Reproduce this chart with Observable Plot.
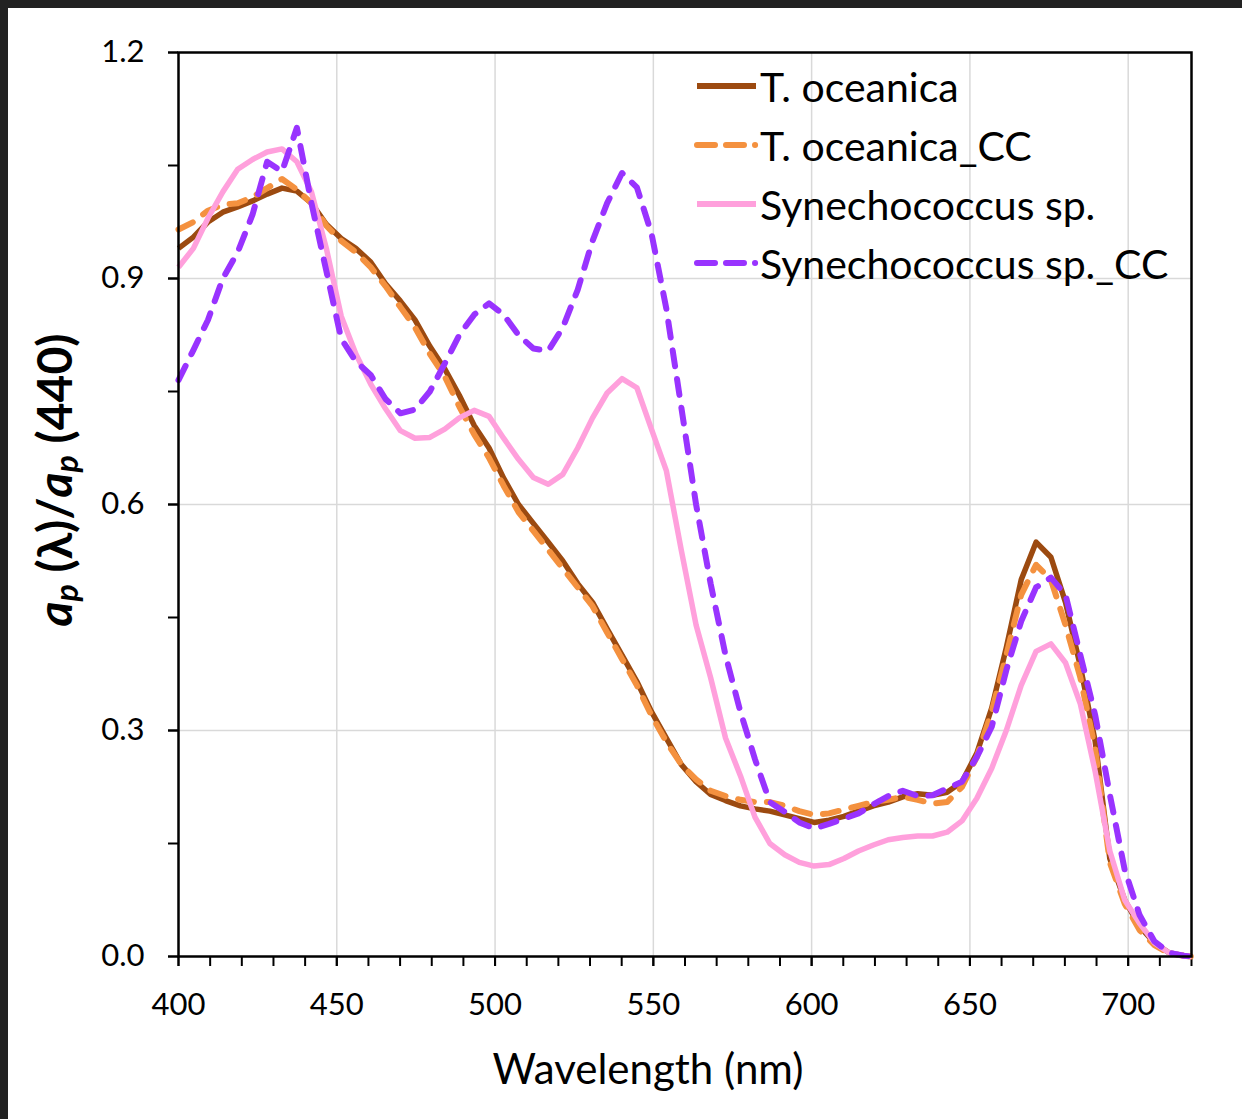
<!DOCTYPE html>
<html><head><meta charset="utf-8">
<script src="https://cdn.jsdelivr.net/npm/d3@7"></script>
<script src="https://cdn.jsdelivr.net/npm/@observablehq/plot@0.6"></script>
<style>
html,body{margin:0;padding:0;background:#fff;}
#wrap{position:relative;width:1242px;height:1119px;box-sizing:border-box;border-top:8px solid #222;border-left:8px solid #222;overflow:hidden;font-family:Lato,sans-serif;background:#fff;}
#chart{position:absolute;left:0;top:0;}
.lg{position:absolute;left:685px;height:44px;display:flex;align-items:center;font-size:41px;color:#000;white-space:nowrap;}
.lg svg{margin-right:1px;}
</style></head><body>
<div id="wrap"><div id="chart"></div><div id="legend"></div></div>
<script>
// wavelengths (nm)
const wavelength = [400.0,404.7,409.3,414.0,418.7,423.4,428.0,432.7,437.4,442.0,446.7,451.4,456.0,460.7,465.4,470.1,474.7,479.4,484.1,488.7,493.4,498.1,502.7,507.4,512.1,516.8,521.4,526.1,530.8,535.4,540.1,544.8,549.4,554.1,558.8,563.5,568.1,572.8,577.5,582.1,586.8,591.5,596.1,600.8,605.5,610.2,614.8,619.5,624.2,628.8,633.5,638.2,642.8,647.5,652.2,656.9,661.5,666.2,670.9,675.6,680.2,684.9,689.6,694.2,698.9,703.6,708.3,712.9,717.6,720.0];
const tOceanica = [0.94,0.955,0.975,0.988,0.995,1.003,1.012,1.02,1.016,1.0,0.972,0.953,0.94,0.922,0.893,0.87,0.845,0.81,0.78,0.745,0.705,0.675,0.635,0.6,0.575,0.55,0.525,0.495,0.47,0.435,0.4,0.365,0.325,0.29,0.255,0.232,0.215,0.207,0.2,0.196,0.193,0.188,0.183,0.178,0.181,0.186,0.193,0.2,0.205,0.212,0.216,0.214,0.218,0.232,0.27,0.33,0.41,0.5,0.55,0.53,0.47,0.385,0.285,0.13,0.075,0.04,0.018,0.005,0.001,0.0];
const tOceanicaCC = [0.965,0.975,0.99,0.998,1.0,1.008,1.02,1.032,1.018,1.0,0.97,0.95,0.935,0.915,0.89,0.862,0.835,0.8,0.77,0.73,0.693,0.662,0.625,0.59,0.565,0.54,0.515,0.49,0.465,0.43,0.395,0.36,0.32,0.285,0.255,0.235,0.22,0.213,0.208,0.205,0.205,0.2,0.193,0.188,0.19,0.195,0.2,0.205,0.208,0.212,0.208,0.203,0.205,0.225,0.265,0.325,0.4,0.48,0.52,0.5,0.44,0.37,0.275,0.125,0.07,0.035,0.015,0.004,0.001,0.0];
const synechococcus = [0.915,0.94,0.98,1.015,1.045,1.058,1.068,1.072,1.055,1.015,0.94,0.85,0.8,0.76,0.727,0.698,0.688,0.689,0.7,0.715,0.725,0.717,0.688,0.66,0.636,0.627,0.64,0.675,0.715,0.748,0.767,0.755,0.7,0.645,0.54,0.44,0.37,0.29,0.24,0.185,0.15,0.135,0.125,0.12,0.122,0.13,0.14,0.148,0.155,0.158,0.16,0.16,0.165,0.18,0.21,0.25,0.3,0.36,0.405,0.415,0.39,0.335,0.245,0.14,0.075,0.044,0.018,0.005,0.001,0.0];
const synechococcusCC = [0.765,0.805,0.845,0.9,0.935,0.985,1.055,1.042,1.1,1.0,0.91,0.82,0.79,0.772,0.74,0.721,0.726,0.75,0.787,0.825,0.852,0.867,0.852,0.825,0.807,0.804,0.835,0.885,0.95,1.0,1.04,1.021,0.96,0.86,0.73,0.6,0.495,0.4,0.325,0.262,0.205,0.192,0.178,0.17,0.176,0.183,0.19,0.202,0.213,0.22,0.213,0.214,0.223,0.232,0.265,0.305,0.38,0.445,0.49,0.503,0.48,0.4,0.32,0.215,0.115,0.055,0.02,0.005,0.001,0.0];
const seriesNames = ["T. oceanica","T. oceanica_CC","Synechococcus sp.","Synechococcus sp._CC"];
const seriesColors = ["#9C4A10","#F4913F","#FFA0DC","#9933FF"];
const seriesDash = [null,"16,13",null,"16,13"];
const seriesValues = [tOceanica,tOceanicaCC,synechococcus,synechococcusCC];
const xMajor = [400,450,500,550,600,650,700];
const xMinor = [400,410,420,430,440,450,460,470,480,490,500,510,520,530,540,550,560,570,580,590,600,610,620,630,640,650,660,670,680,690,700,710,720];
const yMajor = [0,0.3,0.6,0.9,1.2];
const yMinor = [0,0.15,0.3,0.45,0.6,0.75,0.9,1.05,1.2];
const xGrid = [450,500,550,600,650,700];
const yGrid = [0.3,0.6,0.9];

const lineMarks = seriesValues.map((vals,i)=>Plot.line(
  wavelength.map((w,j)=>({w, v: vals[j]})),
  {x:"w", y:"v", stroke: seriesColors[i], strokeWidth: seriesDash[i] ? 6 : 5.5,
   strokeDasharray: seriesDash[i] || undefined, strokeLinecap: seriesDash[i] ? "round":"butt", strokeLinejoin:"round"}
));

const chart = Plot.plot({
  width:1234, height:1111,
  marginLeft:170, marginTop:44, marginRight:51, marginBottom:163,
  style:{fontFamily:"Lato, sans-serif", fontSize:"30px", color:"#000", background:"transparent", overflow:"visible"},
  x:{domain:[400,720]},
  y:{domain:[0,1.2]},
  marks:[
    Plot.gridX(xGrid,{stroke:"#d9d9d9", strokeOpacity:1, strokeWidth:1.5}),
    Plot.gridY(yGrid,{stroke:"#d9d9d9", strokeOpacity:1, strokeWidth:1.5}),
    Plot.axisX(xMinor,{tickSize:10, tickFormat:()=>"", strokeWidth:2, stroke:"#000", label:null}),
    Plot.axisX(xMajor,{tickSize:10, tickPadding:26, strokeWidth:2, stroke:"#000", fontSize:31, label:null, tickFormat:d=>String(d)}),
    Plot.axisY(yMinor,{tickSize:10, tickFormat:()=>"", strokeWidth:2, stroke:"#000", label:null}),
    Plot.axisY(yMajor,{tickSize:10, tickPadding:24, strokeWidth:2, stroke:"#000", fontSize:31, label:null, tickFormat:d=>d.toFixed(1)}),
    ...lineMarks,
    Plot.frame({stroke:"#000", strokeWidth:2.5})
  ]
});
document.getElementById("chart").appendChild(chart);

const svg = d3.select(chart);
// x title
svg.append("text").attr("x",640).attr("y",1076).attr("text-anchor","middle")
  .attr("font-family","Lato, sans-serif").attr("font-size",42).attr("fill","#000").text("Wavelength (nm)");
// y title
const yt = svg.append("text").attr("transform","translate(52,472) rotate(-90)")
  .attr("text-anchor","middle").attr("dominant-baseline","middle")
  .attr("font-family","Lato, sans-serif").attr("font-size",48).attr("font-weight","bold").attr("fill","#000");
yt.append("tspan").attr("font-style","italic").text("a");
yt.append("tspan").attr("font-style","italic").attr("font-size",32).attr("dy",10).text("p");
yt.append("tspan").attr("dy",-10).text(" (λ)/");
yt.append("tspan").attr("font-style","italic").text("a");
yt.append("tspan").attr("font-style","italic").attr("font-size",32).attr("dy",10).text("p");
yt.append("tspan").attr("dy",-10).text(" (440)");

// legend
const lg = document.getElementById("legend");
seriesNames.forEach((name,i)=>{
  const row = document.createElement("div");
  row.className="lg";
  row.style.top = (56 + i*59) + "px";
  const dash = seriesDash[i] ? `stroke-dasharray="18,11,18,11,0.1,20" stroke-linecap="round"` : "";
  row.innerHTML = `<svg width="66" height="12"><line x1="4" y1="6" x2="63" y2="6" stroke="${seriesColors[i]}" stroke-width="6" ${dash}/></svg><span>${name}</span>`;
  lg.appendChild(row);
});
</script>
</body></html>
